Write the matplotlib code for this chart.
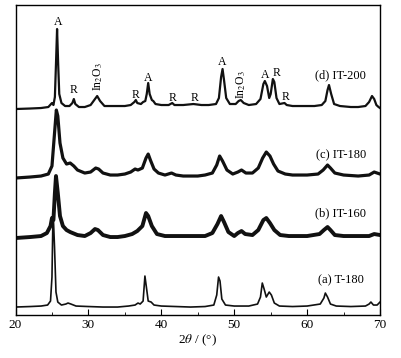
import numpy as np
import matplotlib
matplotlib.use("Agg")
import matplotlib.pyplot as plt
from matplotlib.ticker import MultipleLocator

plt.rcParams["font.family"] = "Liberation Serif"
plt.rcParams["mathtext.fontset"] = "stix"

# ── traced patterns (2theta, intensity above own baseline, a.u.) ─────────────
tt_a = [20, 22, 23.5, 24.4, 24.8, 25.0, 25.15, 25.35, 25.55, 25.8, 26.3, 26.9, 27.2,
        27.6, 28.3, 30, 32, 34, 35.5, 36.4, 36.8, 37.1, 37.5, 37.75, 37.95, 38.2,
        38.6, 39, 40, 42, 44, 46, 47.2, 47.6, 47.85, 48.05, 48.3, 48.8, 50, 52,
        53.2, 53.6, 53.85, 54.1, 54.4, 54.8, 55.1, 55.5, 56.2, 58, 60, 61.8, 62.3,
        62.5, 62.8, 63.2, 64, 66, 68, 68.5, 68.75, 69.1, 69.6, 70]
I_a = [0, 0.5, 1, 2, 6, 30, 97, 60, 15, 5, 2, 3, 4,
       3, 1, 0.5, 0, 0, 1, 2, 4, 3, 6, 31, 20, 6,
       5, 2, 1, 0.5, 0, 0.5, 2, 12, 30, 26, 8, 2, 1, 1,
       3, 10, 24, 18, 10, 15, 12, 4, 1, 0.5, 1, 3, 9,
       14, 10, 3, 1, 0.5, 1, 3, 5, 2, 2, 5]

tt_b = [20, 22, 23.5, 24.3, 24.8, 25.0, 25.2, 25.4, 25.55, 25.8, 26.1, 26.5, 27,
        27.5, 28.5, 29.5, 30.3, 30.9, 31.3, 32, 33, 34, 35, 36, 36.7, 37.4, 37.9,
        38.2, 38.7, 39.4, 40.5, 42, 44, 46, 47, 47.7, 48.2, 48.6, 49.2, 50, 50.5,
        51, 51.5, 52.5, 53.3, 54.0, 54.4, 54.9, 55.5, 56.3, 57.5, 60, 61.7, 62.3,
        62.8, 63.2, 63.8, 65, 67, 68.5, 69.2, 70]
I_b = [0, 1, 2, 5, 12, 20, 18, 45, 62, 45, 22, 12, 8,
       6, 3, 2, 5, 9, 8, 3, 1, 1, 2, 4, 7, 12, 25,
       22, 12, 4, 2, 2, 2, 2, 5, 14, 22, 16, 6, 2, 5,
       7, 4, 3, 8, 18, 20, 15, 8, 3, 2, 2, 4, 8,
       11, 8, 3, 2, 2, 2, 4, 3]

tt_c = [20, 22, 23.5, 24.5, 25.0, 25.3, 25.6, 25.8, 26.1, 26.5, 27.0, 27.5, 28,
        28.5, 29.5, 30.3, 31.0, 31.4, 32.0, 33, 34, 35, 35.8, 36.4, 36.8, 37.4,
        37.9, 38.2, 38.5, 39, 39.6, 40.5, 41.4, 42, 43, 44, 45, 46, 47, 47.6, 48.0,
        48.4, 49, 49.8, 50.5, 51, 51.6, 52.5, 53.3, 53.9, 54.4, 54.9, 55.4, 56, 57,
        58, 60, 61.5, 62.2, 62.8, 63.2, 63.8, 65, 67, 68.5, 69.2, 70]
I_c = [0, 1, 2, 4, 12, 40, 68, 62, 35, 20, 14, 15, 12,
       8, 5, 6, 10, 9, 5, 3, 3, 4, 6, 9, 8, 10,
       20, 24, 18, 9, 5, 3, 5, 3, 2, 2, 2, 3, 5, 13, 22,
       17, 8, 4, 6, 8, 5, 5, 10, 20, 26, 22, 14, 7, 4,
       3, 3, 4, 8, 13, 10, 5, 3, 2, 3, 6, 4]

tt_d = [20, 22, 23.5, 24.5, 25.0, 25.2, 25.4, 25.55, 25.7, 25.85, 26.0, 26.3, 26.8,
        27.4, 27.8, 28.0, 28.2, 28.7, 29.5, 30.3, 30.8, 31.2, 31.6, 32.2, 33, 34,
        35, 35.8, 36.3, 36.5, 36.7, 37.2, 37.5, 37.8, 38.0, 38.2, 38.4, 38.7, 38.9,
        39.2, 40, 41, 41.5, 41.8, 43, 44.4, 45.5, 46.5, 47.5, 47.9, 48.2, 48.4,
        48.6, 48.9, 49.4, 50.2, 50.6, 50.9, 51.3, 52, 53, 53.6, 54.0, 54.2, 54.5,
        54.8, 55.0, 55.3, 55.5, 55.8, 56.2, 56.9, 57.2, 58, 59, 60, 61, 62, 62.5,
        62.8, 63.0, 63.3, 63.7, 64.5, 66, 67, 68, 68.5, 68.9, 69.2, 69.5, 69.8, 70]
I_d = [0, 0.5, 1, 2, 6, 4, 12, 45, 80, 45, 15, 6, 3,
       3, 6, 10, 5, 2, 2, 4, 9, 13, 8, 3, 3, 3,
       3, 4, 7, 9, 6, 5, 7, 8, 15, 26, 15, 9, 8,
       5, 4, 4, 6, 4, 4, 5, 4, 4, 5, 11, 32, 40,
       29, 11, 5, 5, 8, 9, 6, 4, 5, 10, 25, 28, 23,
       11, 15, 30, 27, 11, 5, 6, 4, 3, 3, 3, 3, 4, 8,
       19, 24, 15, 5, 3, 2, 2, 3, 7, 13, 10, 4, 2, 1]

offsets = {"a": 8, "b": 77, "c": 137, "d": 206}
line_w = {"a": 1.2, "b": 2.8, "c": 2.3, "d": 1.6}
names = {"a": "(a) T-180", "b": "(b) IT-160", "c": "(c) IT-180", "d": "(d) IT-200"}
name_y = {"a": 35, "b": 102, "c": 160, "d": 240}

# phase labels on pattern (d): (2theta, y, text)
phase_tt = [25.8, 28.0, 31.3, 36.5, 38.2, 41.6, 44.6, 48.4, 50.9, 54.3, 55.8, 57.1]
phase_y = [293, 225, 238, 220, 237, 217, 217, 253, 230, 240, 242, 218]
phase_txt = ["A", "R", "In$_2$O$_3$", "R", "A", "R", "R", "A", "In$_2$O$_3$", "A", "R", "R"]

data = {"a": (tt_a, I_a), "b": (tt_b, I_b), "c": (tt_c, I_c), "d": (tt_d, I_d)}

fig = plt.figure(figsize=(4.01, 3.58), dpi=100)
ax = fig.add_axes([0.0387, 0.120, 0.909, 0.866])

for k in ["a", "b", "c", "d"]:
    tt, I = data[k]
    ax.plot(tt, np.array(I) + offsets[k], color="#111111", lw=line_w[k],
            solid_joinstyle="round")
    ax.text(64.6, name_y[k], names[k], fontsize=9, ha="center", va="center")

for x, y, t in zip(phase_tt, phase_y, phase_txt):
    rot = 90 if "In" in t else 0
    ax.text(x, y, t, fontsize=8.5, ha="center", va="center", rotation=rot)

ax.set_xlim(20, 70)
ax.set_ylim(0, 310)
ax.set_yticks([])
ax.xaxis.set_major_locator(MultipleLocator(10))
ax.xaxis.set_minor_locator(MultipleLocator(5))
ax.tick_params(axis="x", which="major", direction="in", length=4, labelsize=9.5, pad=3)
ax.tick_params(axis="x", which="minor", direction="in", length=2.5)
for s in ax.spines.values():
    s.set_linewidth(1.0)
ax.set_xlabel(r"2$\theta$ / (°)", fontsize=9.5, labelpad=1)

fig.savefig("out.png", dpi=100)
